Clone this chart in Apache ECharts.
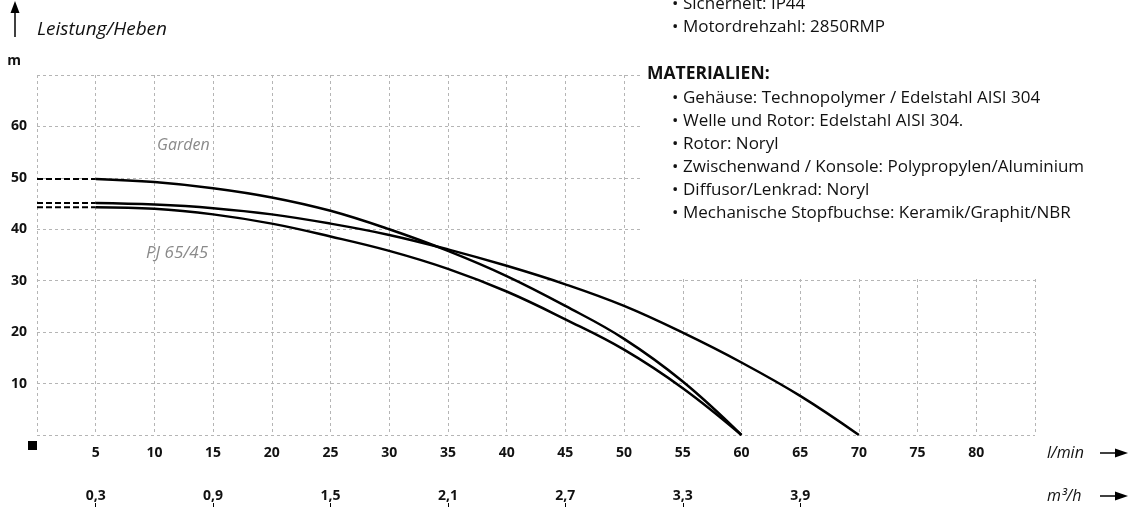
<!DOCTYPE html>
<html><head><meta charset="utf-8">
<script src="https://cdn.jsdelivr.net/npm/echarts/dist/echarts.min.js"></script>
<style>html,body{margin:0;padding:0;background:#fff}#c{width:1129px;height:507px}</style>
</head><body><div id="c"></div>
<script>
// ---- data ----
const gardenFlow = [5, 10, 15, 20, 25, 30, 35, 40, 45, 50, 55, 60];
const gardenHead = [49.8, 49.2, 48.0, 46.2, 43.6, 40.0, 35.8, 30.9, 25.1, 18.7, 10.4, 0];
const pj1Flow = [5, 10, 15, 20, 25, 30, 35, 40, 45, 50, 55, 60, 65, 70];
const pj1Head = [45.1, 44.8, 44.1, 42.9, 41.1, 38.9, 36.1, 32.9, 29.3, 25.1, 19.9, 14.1, 7.6, 0];
const pj2Flow = [5, 10, 15, 20, 25, 30, 35, 40, 45, 50, 55, 60];
const pj2Head = [44.3, 44.0, 42.9, 41.1, 38.6, 35.8, 32.3, 27.9, 22.5, 16.6, 9.1, 0];
const m3hTickFlows = [5, 15, 25, 35, 45, 55, 65];
const m3hTickLabels = ['0,3', '0,9', '1,5', '2,1', '2,7', '3,3', '3,9'];
const specLines = ['Sicherheit: IP44', 'Motordrehzahl: 2850RMP'];
const materialLines = [
  'Gehäuse: Technopolymer / Edelstahl AISI 304',
  'Welle und Rotor: Edelstahl AISI 304.',
  'Rotor: Noryl',
  'Zwischenwand / Konsole: Polypropylen/Aluminium',
  'Diffusor/Lenkrad: Noryl',
  'Mechanische Stopfbuchse: Keramik/Graphit/NBR'
];

const FONT = '"Open Sans", "Noto Sans", sans-serif';
const pairs = (xs, ys) => xs.map((x, i) => [x, ys[i]]);
const curveStyle = { color: '#000', width: 2.5 };
function solid(name, xs, ys) {
  return { name, type: 'line', xAxisIndex: 0, yAxisIndex: 0, data: pairs(xs, ys), symbol: 'none',
    smooth: 0.4, lineStyle: curveStyle, silent: true, z: 20 };
}
function dashed(name, xs, ys) {
  return { name: name + '-0', type: 'line', xAxisIndex: 0, yAxisIndex: 0,
    data: [[0, ys[0]], [xs[0], ys[0]]], symbol: 'none',
    lineStyle: { color: '#000', width: 2, type: [6, 3] }, silent: true, z: 20 };
}

const graphics = [];
// white panel behind the specification text (covers the grid there)
graphics.push({ type: 'rect', shape: { x: 640, y: 0, width: 489, height: 279 }, style: { fill: '#fff' }, z: 10 });
// up arrow + title
graphics.push({ type: 'line', shape: { x1: 15, y1: 10, x2: 15, y2: 37 }, style: { stroke: '#000', lineWidth: 1.5 } });
graphics.push({ type: 'polygon', shape: { points: [[15, 1], [10.5, 13], [19.5, 13]] }, style: { fill: '#000' } });
graphics.push({ type: 'text', x: 37, y: 30, style: { text: 'Leistung/Heben', font: 'italic 19px ' + FONT, fill: '#111', verticalAlign: 'middle' } });
graphics.push({ type: 'text', x: 14, y: 61, style: { text: 'm', font: 'bold 14px ' + FONT, fill: '#111', align: 'center', verticalAlign: 'middle' } });
graphics.push({ type: 'rect', shape: { x: 28, y: 441, width: 9, height: 9 }, style: { fill: '#000' } });
// unit labels with arrows
[['l/min', 453], ['m³/h', 496]].forEach(([t, y]) => {
  graphics.push({ type: 'text', x: 1047, y: y, style: { text: t, font: 'italic 16px ' + FONT, fill: '#111', verticalAlign: 'middle' } });
  graphics.push({ type: 'line', shape: { x1: 1100, y1: y, x2: 1117, y2: y }, style: { stroke: '#000', lineWidth: 1.5 } });
  graphics.push({ type: 'polygon', shape: { points: [[1128, y], [1115, y - 4.5], [1115, y + 4.5]] }, style: { fill: '#000' } });
});
// curve labels
graphics.push({ type: 'text', x: 157, y: 145, style: { text: 'Garden', font: 'italic 16px ' + FONT, fill: '#8a8a8a', verticalAlign: 'middle' } });
graphics.push({ type: 'text', x: 146, y: 253, style: { text: 'PJ 65/45', font: 'italic 17px ' + FONT, fill: '#8a8a8a', verticalAlign: 'middle' } });
// spec text
const TXT = '17px ' + FONT;
specLines.forEach((t, i) => {
  const y = 4 + i * 23;
  graphics.push({ type: 'text', x: 672, y, z: 11, style: { text: '•', font: TXT, fill: '#111', verticalAlign: 'middle' } });
  graphics.push({ type: 'text', x: 683, y, z: 11, style: { text: t, font: TXT, fill: '#111', verticalAlign: 'middle' } });
});
graphics.push({ type: 'text', x: 647, y: 74, z: 11, style: { text: 'MATERIALIEN:', font: 'bold 17.5px ' + FONT, fill: '#111', verticalAlign: 'middle' } });
materialLines.forEach((t, i) => {
  const y = 98 + i * 23;
  graphics.push({ type: 'text', x: 672, y, z: 11, style: { text: '•', font: TXT, fill: '#111', verticalAlign: 'middle' } });
  graphics.push({ type: 'text', x: 683, y, z: 11, style: { text: t, font: TXT, fill: '#111', verticalAlign: 'middle' } });
});

const gridLine = { show: true, lineStyle: { color: '#b5b5b5', width: 1, type: [3, 3] } };
const labelFont = { fontFamily: FONT, fontWeight: 'bold', fontSize: 14, color: '#111' };

const chart = echarts.init(document.getElementById('c'), null, { renderer: 'canvas' });
chart.setOption({
  animation: false,
  backgroundColor: '#fff',
  grid: { left: 37, right: 94, top: 75, bottom: 72, containLabel: false },
  xAxis: [
    { type: 'value', min: 0, max: 85, interval: 5, position: 'bottom',
      axisLine: { show: false }, axisTick: { show: false }, splitLine: gridLine,
      axisLabel: Object.assign({ margin: 11, formatter: v => (v === 0 || v === 85) ? '' : String(v) }, labelFont) },
    { type: 'value', min: 0, max: 85, position: 'bottom', offset: 43,
      axisLine: { show: false }, axisTick: { show: false }, splitLine: { show: false },
      axisLabel: Object.assign({ margin: 11, customValues: m3hTickFlows,
        formatter: v => m3hTickLabels[m3hTickFlows.indexOf(v)] || '' }, labelFont) },
    { type: 'value', min: 0, max: 85, position: 'bottom', offset: 68,
      axisLine: { show: false }, splitLine: { show: false }, axisLabel: { show: false },
      axisTick: { show: true, customValues: m3hTickFlows, length: 6, lineStyle: { color: '#000', width: 1 } } }
  ],
  yAxis: [
    { type: 'value', min: 0, max: 70, interval: 10,
      axisLine: { show: false }, axisTick: { show: false }, splitLine: gridLine,
      axisLabel: Object.assign({ margin: 10, formatter: v => (v === 0 || v === 70) ? '' : String(v) }, labelFont) }
  ],
  series: [
    dashed('Garden', gardenFlow, gardenHead), solid('Garden', gardenFlow, gardenHead),
    dashed('PJ 65/45 a', pj1Flow, pj1Head), solid('PJ 65/45 a', pj1Flow, pj1Head),
    dashed('PJ 65/45 b', pj2Flow, pj2Head), solid('PJ 65/45 b', pj2Flow, pj2Head)
  ],
  graphic: graphics
});
</script>
</body></html>
